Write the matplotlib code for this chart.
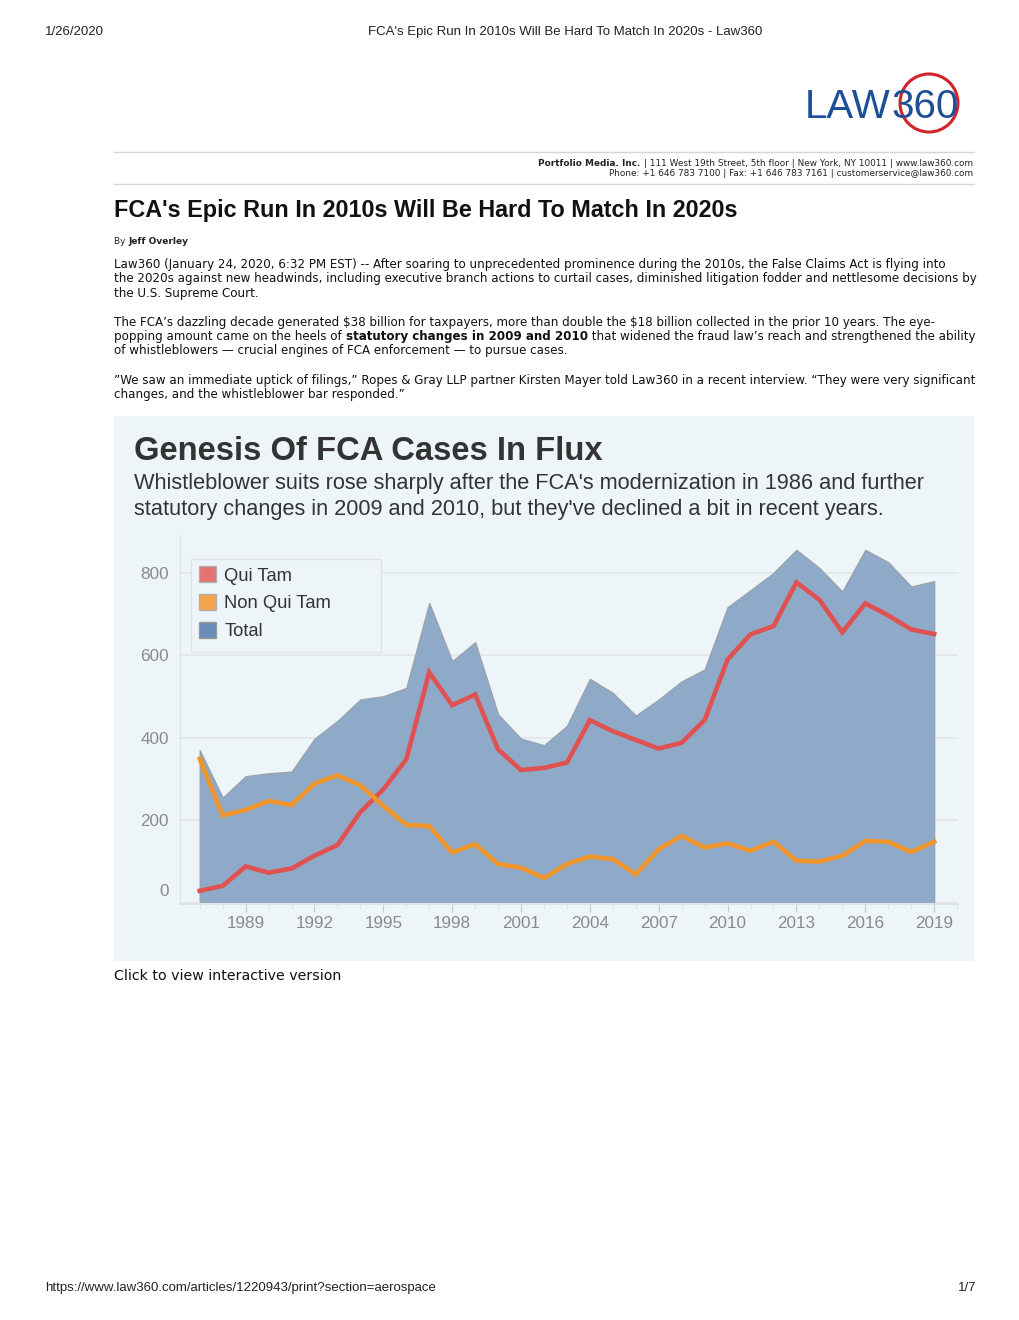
import matplotlib
matplotlib.use("Agg")
import matplotlib.pyplot as plt
from matplotlib.patches import Rectangle, Ellipse, Patch
from matplotlib.ticker import MultipleLocator, FixedLocator

W, H = 1020, 1320

years = list(range(1987, 2020))
qui_tam = [29, 41, 88, 73, 83, 114, 140, 220, 275, 348, 559, 479, 505, 372, 322, 327,
           340, 443, 416, 395, 374, 388, 443, 590, 651, 671, 777, 735, 656, 726, 697, 663, 652]
non_qui_tam = [349, 212, 225, 247, 237, 289, 309, 285, 235, 189, 186, 122, 142, 94, 85, 60,
               94, 112, 106, 69, 130, 162, 134, 144, 126, 148, 102, 100, 114, 150, 148, 123, 148]
total = [370, 255, 307, 314, 318, 398, 441, 493, 501, 521, 727, 586, 632, 457, 398, 382,
         429, 543, 509, 454, 493, 537, 566, 717, 758, 800, 856, 812, 755, 856, 826, 767, 780]
year_ticks = [1989, 1992, 1995, 1998, 2001, 2004, 2007, 2010, 2013, 2016, 2019]
y_ticks = [0, 200, 400, 600, 800]
legend_labels = ["Qui Tam", "Non Qui Tam", "Total"]

fig = plt.figure(figsize=(W / 100, H / 100), dpi=100)
fig.patch.set_facecolor("white")


def P(x, y):
    return (x / W, 1 - y / H)


def ftext(x, y, s, **kw):
    kw.setdefault("parse_math", False)
    return fig.text(x / W, 1 - y / H, s, **kw)


SANS = "Liberation Sans"
VERD = "DejaVu Sans"

# ---- page header / footer
ftext(45, 32, "1/26/2020", fontsize=9.5, family=SANS, va="center", color="#222")
ftext(565, 32, "FCA's Epic Run In 2010s Will Be Hard To Match In 2020s - Law360",
      fontsize=9.5, family=SANS, va="center", ha="center", color="#222")
ftext(45, 1288, "https://www.law360.com/articles/1220943/print?section=aerospace",
      fontsize=9.5, family=SANS, va="center", color="#222")
ftext(976, 1288, "1/7", fontsize=9.5, family=SANS, va="center", ha="right", color="#222")

fig.canvas.draw()
r = fig.canvas.get_renderer()

# ---- logo
lt = ftext(805, 118, "LAW", fontsize=29, family=SANS, color="#1d4f96", va="baseline")
fig.canvas.draw()
lx = lt.get_window_extent(r).x1
fig.text((lx + 1) / W, 1 - 118 / H, "360", fontsize=29, family=SANS, color="#1d4f96",
         va="baseline")
fig.add_artist(Ellipse(P(929, 103), 58 / W, 58 / H, fill=False, ec="#d2232a", lw=2.2,
                       transform=fig.transFigure))

# ---- rules and company info
for yy in (152, 184):
    fig.add_artist(plt.Line2D([114 / W, 974 / W], [1 - yy / H] * 2, color="#d6d6cc", lw=1,
                              transform=fig.transFigure))
t1 = ftext(973, 163, "| 111 West 19th Street, 5th floor | New York, NY 10011 | www.law360.com",
           fontsize=6.4, family=VERD, ha="right", va="center", color="#222")
fig.canvas.draw()
bb = t1.get_window_extent(r)
fig.text((bb.x0 - 3) / W, 1 - 163 / H, "Portfolio Media. Inc.", fontsize=6.4, family=VERD,
         weight="bold", ha="right", va="center", color="#222")
ftext(973, 173, "Phone: +1 646 783 7100 | Fax: +1 646 783 7161 | customerservice@law360.com",
      fontsize=6.4, family=VERD, ha="right", va="center", color="#222")

# ---- headline
ftext(114, 210, "FCA's Epic Run In 2010s Will Be Hard To Match In 2020s", fontsize=16.8,
      family=SANS, weight="bold", va="center", color="#111")
b1 = ftext(114, 241, "By ", fontsize=6.5, family=VERD, va="center", color="#222")
fig.canvas.draw()
bb = b1.get_window_extent(r)
fig.text(bb.x1 / W, 1 - 241 / H, "Jeff Overley", fontsize=6.5, family=VERD, weight="bold",
         va="center", color="#222")

BODY = 8.55
lines = [
    (264, "Law360 (January 24, 2020, 6:32 PM EST) -- After soaring to unprecedented prominence during the 2010s, the False Claims Act is flying into"),
    (278, "the 2020s against new headwinds, including executive branch actions to curtail cases, diminished litigation fodder and nettlesome decisions by"),
    (293, "the U.S. Supreme Court."),
    (322, "The FCA\u2019s dazzling decade generated $38 billion for taxpayers, more than double the $18 billion collected in the prior 10 years. The eye-"),
    (350, "of whistleblowers \u2014 crucial engines of FCA enforcement \u2014 to pursue cases."),
    (380, "\u201dWe saw an immediate uptick of filings,\u201d Ropes & Gray LLP partner Kirsten Mayer told Law360 in a recent interview. \u201cThey were very significant"),
    (394, "changes, and the whistleblower bar responded.\u201d"),
]
for yy, s in lines:
    ftext(114, yy + 4, s, fontsize=BODY, family=VERD, va="baseline", color="#111")

# mixed bold line
segs = [("popping amount came on the heels of ", "normal"),
        ("statutory changes in 2009 and 2010", "bold"),
        (" that widened the fraud law\u2019s reach and strengthened the ability", "normal")]
x = 114
for s, wgt in segs:
    t = ftext(x, 336 + 4, s, fontsize=BODY, family=VERD, weight=wgt, va="baseline",
              color="#111")
    fig.canvas.draw()
    x = t.get_window_extent(r).x1

ftext(114, 976, "Click to view interactive version", fontsize=10.2, family=VERD, va="center",
      color="#111")

# ---- chart panel
fig.add_artist(Rectangle(P(114, 961), (974 - 114) / W, (961 - 416) / H, transform=fig.transFigure,
                         fc="#eef5f9", ec="none", zorder=-1))
ftext(134, 451, "Genesis Of FCA Cases In Flux", fontsize=23.6, family=SANS, weight="bold",
      va="center", color="#333333")
ftext(134, 484, "Whistleblower suits rose sharply after the FCA's modernization in 1986 and further",
      fontsize=15.7, family=SANS, va="center", color="#333333")
ftext(134, 510, "statutory changes in 2009 and 2010, but they've declined a bit in recent years.",
      fontsize=15.7, family=SANS, va="center", color="#333333")

ax = fig.add_axes([180 / W, 1 - 904 / H, (958 - 180) / W, (904 - 535) / H])
ax.set_facecolor("none")
ax.set_xlim(1986.14, 2020.04)
ax.set_ylim(-3, 892)

ax.fill_between(years, 0, total, color="#8eaac8", ec="#9aa3ad", lw=1.0, zorder=2)
ax.plot(years, qui_tam, color="#e05252", lw=3.3, zorder=4, solid_joinstyle="miter")
ax.plot(years, non_qui_tam, color="#f0952c", lw=3.3, zorder=4, solid_joinstyle="miter")

ax.yaxis.set_major_locator(FixedLocator(y_ticks))
ax.set_yticklabels(["" if v == 0 else str(v) for v in y_ticks])
ax.annotate("0", xy=(0, 0), xycoords=("axes fraction", "data"), xytext=(-8, 8),
            textcoords="offset points", ha="right", va="center", fontsize=12.3,
            family=SANS, color="#8a8a8a")
ax.xaxis.set_major_locator(FixedLocator(year_ticks))
ax.set_xticklabels([str(v) for v in year_ticks])
ax.xaxis.set_minor_locator(MultipleLocator(1))
ax.grid(axis="y", color="#e2e5e8", lw=1.1, zorder=1)
ax.grid(axis="x", which="both", color="white", alpha=0.22, lw=1, zorder=3)
ax.tick_params(axis="y", length=0, pad=8, labelsize=12.3, labelcolor="#8a8a8a")
ax.tick_params(axis="x", which="major", length=6, color="#c8ccd0", pad=3, labelsize=12.3,
               labelcolor="#8a8a8a")
ax.tick_params(axis="x", which="minor", length=3, color="#d5d8db")
for lab in ax.get_xticklabels() + ax.get_yticklabels():
    lab.set_family(SANS)
for sp in ("top", "right"):
    ax.spines[sp].set_visible(False)
ax.spines["left"].set_color("#e0e3e6")
ax.spines["bottom"].set_color("#dfe2e5")
ax.spines["bottom"].set_linewidth(1.5)

# legend frame (drawn separately to match the reference's wide box)
frame = Rectangle(P(191, 652), (381 - 191) / W, (652 - 559) / H, transform=fig.transFigure,
                  fc="#eef5f9", ec="#e0e3e6", lw=1, zorder=4.5, clip_on=False)
ax.add_artist(frame)
handles = [Patch(fc="#e57373", ec="#b0b0b0"), Patch(fc="#f4a24c", ec="#b0b0b0"),
           Patch(fc="#6a8cb8", ec="#9a9a9a")]
leg = ax.legend(handles, legend_labels, loc="upper left",
                bbox_to_anchor=((193 - 180) / 778, 1 - (561 - 535) / 369),
                frameon=False, prop={"family": SANS, "size": 13.2}, labelcolor="#333333",
                handlelength=0.95, handleheight=0.95, handletextpad=0.45, borderpad=0.3,
                labelspacing=0.52, borderaxespad=0)
leg.set_zorder(5)

fig.savefig("out.png", dpi=100)
